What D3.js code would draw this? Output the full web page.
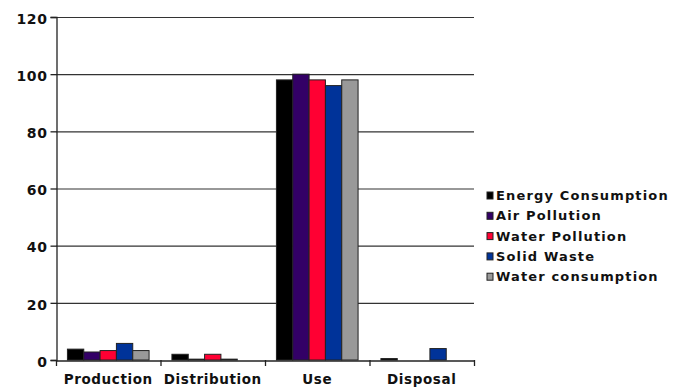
<!DOCTYPE html>
<html><head><meta charset="utf-8">
<script src="https://cdn.jsdelivr.net/npm/d3@7/dist/d3.min.js"></script>
<style>body{margin:0;background:#fff}svg{display:block}</style>
</head><body><svg id="c" width="683" height="388"></svg>
<script>
const categories = ["Production","Distribution","Use","Disposal"];
const seriesNames = ["Energy Consumption","Air Pollution","Water Pollution","Solid Waste","Water consumption"];
const energyConsumption = [3.8, 2.0, 98, 0.5];
const airPollution = [2.8, 0.3, 100, 0];
const waterPollution = [3.3, 2.0, 98, 0];
const solidWaste = [5.8, 0.3, 96, 4];
const waterConsumption = [3.3, 0, 98, 0];
const yTicks = [0,20,40,60,80,100,120];
const colors = ["#000000","#330066","#ff0033","#003399","#999999"];
const series = [energyConsumption, airPollution, waterPollution, solidWaste, waterConsumption];

(function(){
const svg = d3.select("#c");
const mLeft = 56, mRight = 474, mTop = 17, mBottom = 360;
const font = "'DejaVu Sans', Verdana, sans-serif";

const x0 = d3.scaleBand().domain(categories).range([mLeft, mRight]).paddingInner(0).paddingOuter(0);
const x1 = d3.scaleBand().domain(seriesNames).range([0, x0.bandwidth()]).paddingInner(0).paddingOuter(0.7);
const y = d3.scaleLinear().domain([0,120]).range([mBottom, mTop]);

svg.append("g").selectAll("line").data(yTicks.filter(d=>d>0)).join("line")
  .attr("x1", mLeft).attr("x2", mRight).attr("y1", d=>y(d)+0.5).attr("y2", d=>y(d)+0.5)
  .attr("stroke", "#333").attr("stroke-width", 1.2);

const g = svg.append("g");
categories.forEach((c, ci) => {
  series.forEach((s, si) => {
    const v = s[ci];
    if (v <= 0) return;
    g.append("rect")
      .attr("x", x0(c) + x1(seriesNames[si]))
      .attr("y", y(v))
      .attr("width", x1.bandwidth())
      .attr("height", mBottom - y(v))
      .attr("fill", colors[si])
      .attr("stroke", "#222").attr("stroke-width", 1);
  });
});

const ya = svg.append("g").attr("transform", `translate(${mLeft+0.5},0)`)
  .call(d3.axisLeft(y).tickValues(yTicks).tickSize(6).tickPadding(3));
ya.select(".domain").attr("stroke","#222").attr("stroke-width",1.3);
ya.selectAll(".tick line").attr("stroke","#222").attr("stroke-width",1.3);
ya.selectAll("text").attr("font-family", font).attr("font-weight","bold").attr("font-size", 14)
  .attr("letter-spacing", 0.6).attr("dy","0.45em").attr("fill","#111");

const xa = svg.append("g").attr("transform", `translate(0,${mBottom+0.5})`)
  .call(d3.axisBottom(x0).tickSize(0).tickPadding(14));
xa.select(".domain").attr("stroke","#222").attr("stroke-width",1.3);
xa.selectAll("text").attr("font-family", font).attr("font-weight","bold").attr("font-size", 13.5)
  .attr("letter-spacing", 0.6).attr("fill","#111");
svg.append("g").selectAll("line").data(categories.map(c=>x0(c)).concat([mRight])).join("line")
  .attr("x1", d=>d+0.5).attr("x2", d=>d+0.5).attr("y1", mBottom).attr("y2", mBottom+6)
  .attr("stroke","#222").attr("stroke-width",1.3);

const lg = svg.append("g");
seriesNames.forEach((n, i) => {
  const yy = 195.5 + i*20.3;
  lg.append("rect").attr("x", 487).attr("y", yy-3.5).attr("width", 6).attr("height", 7)
    .attr("fill", colors[i]).attr("stroke", "#222").attr("stroke-width", 1);
  lg.append("text").attr("x", 496).attr("y", yy).attr("dy","0.36em")
    .attr("font-family", font).attr("font-weight","bold").attr("font-size", 13)
    .attr("letter-spacing", 1.15).attr("fill","#111")
    .text(n);
});
})();
</script></body></html>
